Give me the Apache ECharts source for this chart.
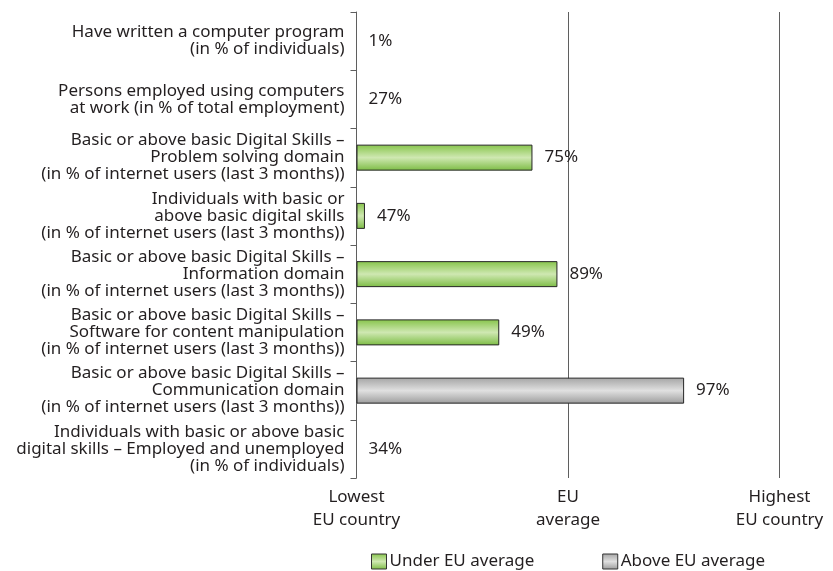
<!DOCTYPE html>
<html lang="en">
<head>
    <meta charset="UTF-8">
    <title>Digital skills</title>
    <script src="https://cdn.jsdelivr.net/npm/echarts@6/dist/echarts.min.js"></script>
    <style>
        body { margin: 0; padding: 0; background: #fff; }
        #chart { width: 833px; height: 571px; }
    </style>
</head>
<body>
<div id="chart"></div>
<script>
    // rows from top to bottom
    const categories = [
        'Have written a computer program\n(in % of individuals)',
        'Persons employed using computers\nat work (in % of total employment)',
        'Basic or above basic Digital Skills –\nProblem solving domain\n(in % of internet users (last 3 months))',
        'Individuals with basic or\nabove basic digital skills\n(in % of internet users (last 3 months))',
        'Basic or above basic Digital Skills –\nInformation domain\n(in % of internet users (last 3 months))',
        'Basic or above basic Digital Skills –\nSoftware for content manipulation\n(in % of internet users (last 3 months))',
        'Basic or above basic Digital Skills –\nCommunication domain\n(in % of internet users (last 3 months))',
        'Individuals with basic or above basic\ndigital skills – Employed and unemployed\n(in % of individuals)'
    ]
    // position on the scale: 0 = lowest EU country, 100 = EU average, 200 = highest EU country
    const position = [0, 0, 83.2, 4.0, 95.0, 67.5, 154.9, 0]
    const valueLabels = ['1%', '27%', '75%', '47%', '89%', '49%', '97%', '34%']
    // 'under', 'above' or '' (no bar)
    const group = ['', '', 'under', 'under', 'under', 'under', 'above', '']
    const scaleTicks = { 0: 'Lowest\nEU country', 100: 'EU\naverage', 200: 'Highest\nEU country' }

    const FONT = '"Noto Sans", sans-serif'
    const TEXT = '#231f20'
    const FS = 17

    function grad(top, mid, bottom) {
        return new echarts.graphic.LinearGradient(0, 0, 0, 1, [
            { offset: 0, color: top },
            { offset: 0.5, color: mid },
            { offset: 1, color: bottom }
        ])
    }
    const greenFill = grad('#86c44a', '#cfe8b2', '#7cbc44')
    const greyFill = grad('#a4a4a4', '#e0e0e0', '#9c9c9c')

    function seriesData(g) {
        return position.map((v, i) => group[i] === g ? { value: v, label: valueLabels[i] } : null)
    }

    const labelStyle = {
        show: true,
        position: 'right',
        distance: 12,
        fontFamily: FONT,
        fontSize: FS,
        color: TEXT,
        formatter: p => p.data.label
    }

    const chart = echarts.init(document.getElementById('chart'), null, { renderer: 'canvas' })
    chart.setOption({
        animation: false,
        textStyle: { fontFamily: FONT },
        grid: { left: 356.5, right: 53.5, top: 12, bottom: 93, containLabel: false },
        legend: {
            top: 548,
            left: 366,
            itemGap: 68,
            itemWidth: 15,
            itemHeight: 15,
            textStyle: { fontFamily: FONT, fontSize: FS, color: TEXT, padding: [0, 0, 0, -2] },
            data: [
                { name: 'Under EU average', icon: 'rect', itemStyle: { color: greenFill, borderColor: '#333', borderWidth: 1 } },
                { name: 'Above EU average', icon: 'rect', itemStyle: { color: greyFill, borderColor: '#333', borderWidth: 1 } }
            ]
        },
        xAxis: {
            type: 'value',
            min: 0,
            max: 200,
            interval: 100,
            axisLine: { show: false },
            axisTick: { show: false },
            splitLine: {
                show: true,
                showMinLine: false,
                lineStyle: { color: '#5f5f5f', width: 1 }
            },
            axisLabel: {
                margin: 8,
                fontFamily: FONT,
                fontSize: FS,
                lineHeight: 23,
                color: TEXT,
                showMaxLabel: true,
                formatter: v => scaleTicks[v] || ''
            }
        },
        yAxis: {
            type: 'category',
            inverse: true,
            data: categories,
            axisLine: { show: true, lineStyle: { color: '#5f5f5f', width: 1 } },
            axisTick: { show: true, inside: false, length: 6, lineStyle: { color: '#5f5f5f' } },
            axisLabel: {
                margin: 12,
                fontFamily: FONT,
                fontSize: FS,
                lineHeight: 17,
                color: TEXT,
                align: 'right'
            }
        },
        series: [
            {
                name: 'Under EU average',
                type: 'bar',
                barWidth: 26,
                barGap: '-100%',
                data: seriesData('under'),
                itemStyle: { color: greenFill, borderColor: '#262626', borderWidth: 1 },
                label: labelStyle,
                z: 3
            },
            {
                name: 'Above EU average',
                type: 'bar',
                barWidth: 26,
                barGap: '-100%',
                data: seriesData('above'),
                itemStyle: { color: greyFill, borderColor: '#262626', borderWidth: 1 },
                label: labelStyle,
                z: 3
            },
            {
                name: 'no bar',
                type: 'bar',
                barWidth: 26,
                barGap: '-100%',
                data: seriesData(''),
                itemStyle: { color: 'transparent', borderWidth: 0 },
                label: labelStyle,
                z: 3
            }
        ]
    })
</script>
</body>
</html>
